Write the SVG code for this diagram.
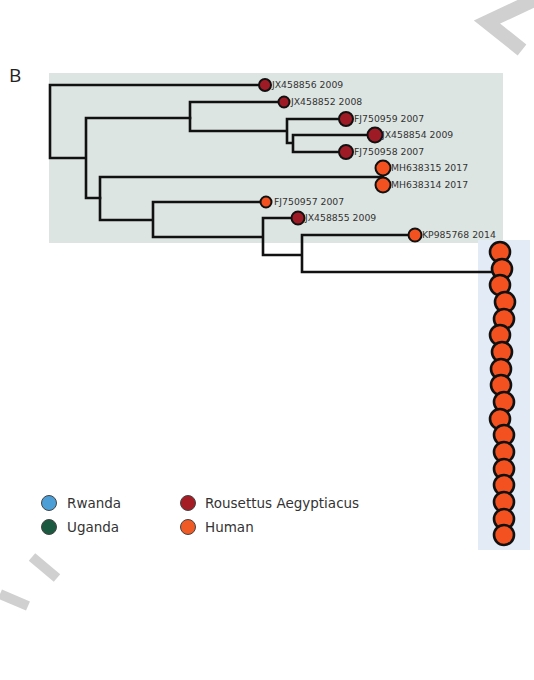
<svg xmlns="http://www.w3.org/2000/svg" width="534" height="680" viewBox="0 0 534 680">
<style>
.br{fill:none;stroke:#111;stroke-width:2.6;stroke-linecap:square}
.red{fill:#9e1b26;stroke:#111;stroke-width:2}
.org{fill:#f3511f;stroke:#111;stroke-width:2}
.hum{fill:#f3511f;stroke:#111;stroke-width:2.6}
.lbl{font-family:"DejaVu Sans",sans-serif;font-size:9.3px;fill:#333}
.leg{font-family:"DejaVu Sans",sans-serif;font-size:13.5px;fill:#333}
.wm{fill:none;stroke:#d0d0d0;stroke-linecap:butt}
</style>
<rect width="534" height="680" fill="#fff"/>
<g id="watermark">
<polyline class="wm" stroke-width="14" points="534,0 487,22 522,50"/>
<line class="wm" stroke-width="10" x1="32" y1="557" x2="57" y2="578"/>
<line class="wm" stroke-width="10" x1="0" y1="594" x2="28" y2="606"/>
</g>
<text x="9" y="82" font-family="Open Sans, sans-serif" font-size="19" fill="#222">B</text>
<rect id="bg-bat" x="49" y="73" width="454" height="170" fill="#dde5e2"/>
<rect id="bg-human" x="478" y="240" width="52" height="310" fill="#e3ebf6"/>
<g id="connectors">
<path class="br" d="M50,85 H265 M50,85 V158 H86 M86,118 V198 M86,118 H190 M86,198 H100"/>
<path class="br" d="M190,102 V131 M190,102 H284 M190,131 H287 M287,119 V143 M287,119 H346 M287,143 H293 M293,135 V152 M293,135 H375 M293,152 H346"/>
<path class="br" d="M100,177 V220 M100,177 H383 M383,168 V185 M100,220 H153 M153,202 V237 M153,202 H266 M153,237 H263 M263,218 V255 M263,218 H298 M263,255 H302 M302,235 V272 M302,235 H415 M302,272 H500"/>
</g>
<g id="leaf-JX458856"><circle class="red" cx="265" cy="85" r="6"/><text class="lbl" x="272" y="88">JX458856 2009</text></g>
<g id="leaf-JX458852"><circle class="red" cx="284" cy="102" r="5.5"/><text class="lbl" x="291" y="105">JX458852 2008</text></g>
<g id="leaf-FJ750959"><circle class="red" cx="346" cy="119" r="7"/><text class="lbl" x="354" y="122">FJ750959 2007</text></g>
<g id="leaf-JX458854"><circle class="red" cx="375" cy="135" r="7.5"/><text class="lbl" x="382" y="138">JX458854 2009</text></g>
<g id="leaf-FJ750958"><circle class="red" cx="346" cy="152" r="7"/><text class="lbl" x="354" y="155">FJ750958 2007</text></g>
<g id="leaf-MH638315"><circle class="org" cx="383" cy="168" r="7.5"/><text class="lbl" x="391" y="171">MH638315 2017</text></g>
<g id="leaf-MH638314"><circle class="org" cx="383" cy="185" r="7.5"/><text class="lbl" x="391" y="188">MH638314 2017</text></g>
<g id="leaf-FJ750957"><circle class="org" cx="266" cy="202" r="5.5"/><text class="lbl" x="274" y="205">FJ750957 2007</text></g>
<g id="leaf-JX458855"><circle class="red" cx="298" cy="218" r="6.5"/><text class="lbl" x="305" y="221">JX458855 2009</text></g>
<g id="leaf-KP985768"><circle class="org" cx="415" cy="235" r="6.5"/><text class="lbl" x="422" y="238">KP985768 2014</text></g>
<g id="human-cluster">
<circle class="hum" cx="500" cy="252" r="10"/>
<circle class="hum" cx="502" cy="269" r="10"/>
<circle class="hum" cx="500" cy="285" r="10"/>
<circle class="hum" cx="505" cy="302" r="10"/>
<circle class="hum" cx="504" cy="319" r="10"/>
<circle class="hum" cx="500" cy="335" r="10"/>
<circle class="hum" cx="502" cy="352" r="10"/>
<circle class="hum" cx="501" cy="369" r="10"/>
<circle class="hum" cx="501" cy="385" r="10"/>
<circle class="hum" cx="504" cy="402" r="10"/>
<circle class="hum" cx="500" cy="419" r="10"/>
<circle class="hum" cx="504" cy="435" r="10"/>
<circle class="hum" cx="504" cy="452" r="10"/>
<circle class="hum" cx="504" cy="469" r="10"/>
<circle class="hum" cx="504" cy="485" r="10"/>
<circle class="hum" cx="504" cy="502" r="10"/>
<circle class="hum" cx="504" cy="519" r="10"/>
<circle class="hum" cx="504" cy="535" r="10"/>
</g>
<g id="legend">
<circle cx="49" cy="503" r="7.5" fill="#4b9fd6" stroke="#444" stroke-width="1"/>
<text class="leg" x="67" y="508">Rwanda</text>
<circle cx="49" cy="527" r="7.5" fill="#1b5a40" stroke="#444" stroke-width="1"/>
<text class="leg" x="67" y="532">Uganda</text>
<circle cx="188" cy="503" r="7.5" fill="#a51c24" stroke="#444" stroke-width="1"/>
<text class="leg" x="205" y="508">Rousettus Aegyptiacus</text>
<circle cx="188" cy="527" r="7.5" fill="#f05a24" stroke="#444" stroke-width="1"/>
<text class="leg" x="205" y="532">Human</text>
</g>
</svg>
